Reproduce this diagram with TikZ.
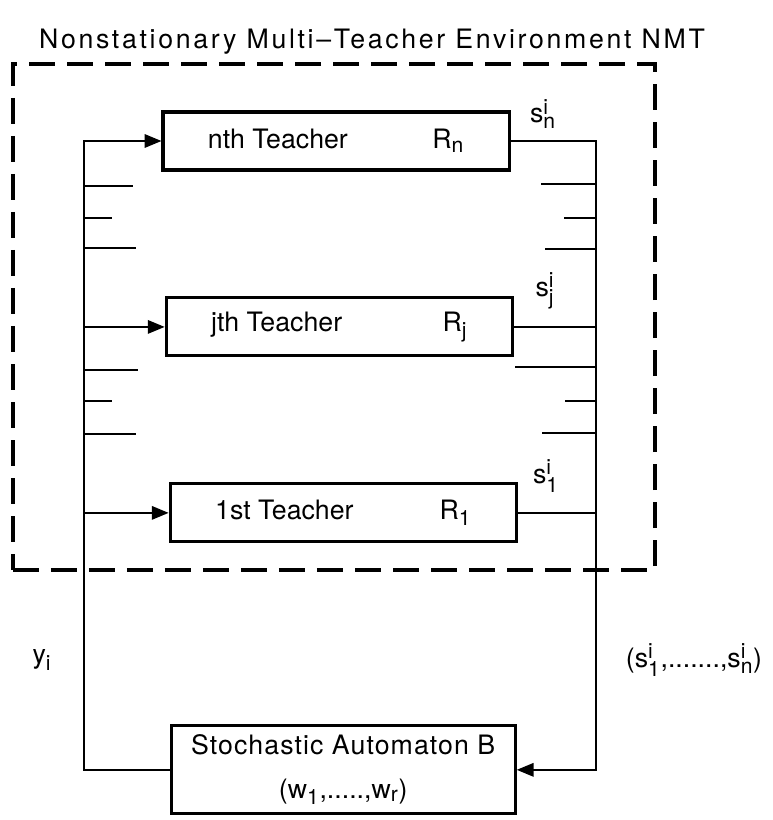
\documentclass[tikz,border=0pt]{standalone}
\usepackage{fontspec}
\setmainfont{TeX Gyre Heros}
\setmathsf{TeX Gyre Heros}
\DeclareMathSizes{19}{19}{15}{11}
\usetikzlibrary{arrows.meta, positioning, calc}
\newcommand{\sv}[2]{$\mathsf{s}^{\mathsf{#1}}_{\mathsf{#2}}$}
\newcommand{\tname}[2]{\makebox[6.4cm][l]{#1\hfill R$_{\mathsf{#2}}$}\hspace{0.45cm}}
\tikzset{
    teacher/.style={rectangle, draw=black, line width=2.2pt, minimum width=8.65cm, minimum height=1.45cm, inner sep=0pt},
    automat/.style={rectangle, draw=black, line width=2.2pt, minimum width=8.6cm, minimum height=2.2cm, align=center, inner sep=0pt},
    envframe/.style={rectangle, draw=black, line width=2.6pt, dash pattern=on 0.65cm off 0.3cm, minimum width=16.05cm, minimum height=12.65cm},
    sig/.style={-{Triangle[length=0.42cm, width=0.34cm]}, line width=1pt},
    wire/.style={line width=1pt},
    stub/.style={line width=1.6pt}
}

\begin{document}
\begin{tikzpicture}[x=0.025cm, y=-0.025cm, node distance=3.12cm,
  every node/.append style={font=\fontsize{19}{23}\selectfont}]
  \useasboundingbox (0,0) rectangle (772,820);
  \node (title) at (372,42) {\addfontfeatures{LetterSpace=10}Nonstationary Multi--Teacher Environment NMT};
  \node[envframe] (nmt) at (334,317) {};
  \node[teacher] (nth) at (336,141) {\tname{nth Teacher}{n}};
  \node[teacher, below=of nth, xshift=0.08cm] (jth) {\tname{jth Teacher}{j}};
  \node[teacher, below=of jth, xshift=0.1cm] (first) {\tname{1st Teacher}{1}};
  \node[automat, below=4.52cm of first] (auto) {\addfontfeatures{LetterSpace=4}Stochastic Automaton B\\[8pt](w$_{\mathsf{1}}$,.....,w$_{\mathsf{r}}$)};
  % output labels
  \node (sn) at (543,114) {\sv{i}{n}};
  \node (sj) at (545,291) {\sv{i}{j}};
  \node (s1) at (546,476) {\sv{i}{1}};
  \node (ylab) at (42,660) {y$_{\mathsf{i}}$};
  \node (svec) at (694,660) {(\sv{i}{1},.......,\sv{i}{n})};
  % buses
  \coordinate (lbus) at (84,0);
  \coordinate (rbus) at (596,0);
  \draw[sig] (auto.west) -| (lbus |- nth.west) -- (nth.west);
  \draw[sig] (lbus |- jth.west) -- (jth.west);
  \draw[sig] (lbus |- first.west) -- (first.west);
  \draw[sig] (nth.east) -| (rbus |- auto.east) -- (auto.east);
  \draw[wire] (jth.east) -- (rbus |- jth.east);
  \draw[wire] (first.east) -- (rbus |- first.east);
  % omitted teachers
  \foreach \y/\x in {186/133, 218/112, 248/136, 370/138, 401/112, 434/136}
    \draw[stub] (84,\y) -- (\x,\y);
  \foreach \y/\x in {184/541, 218/564, 249/545, 367/515, 401/565, 433/542}
    \draw[stub] (\x,\y) -- (596,\y);
\end{tikzpicture}
\end{document}
